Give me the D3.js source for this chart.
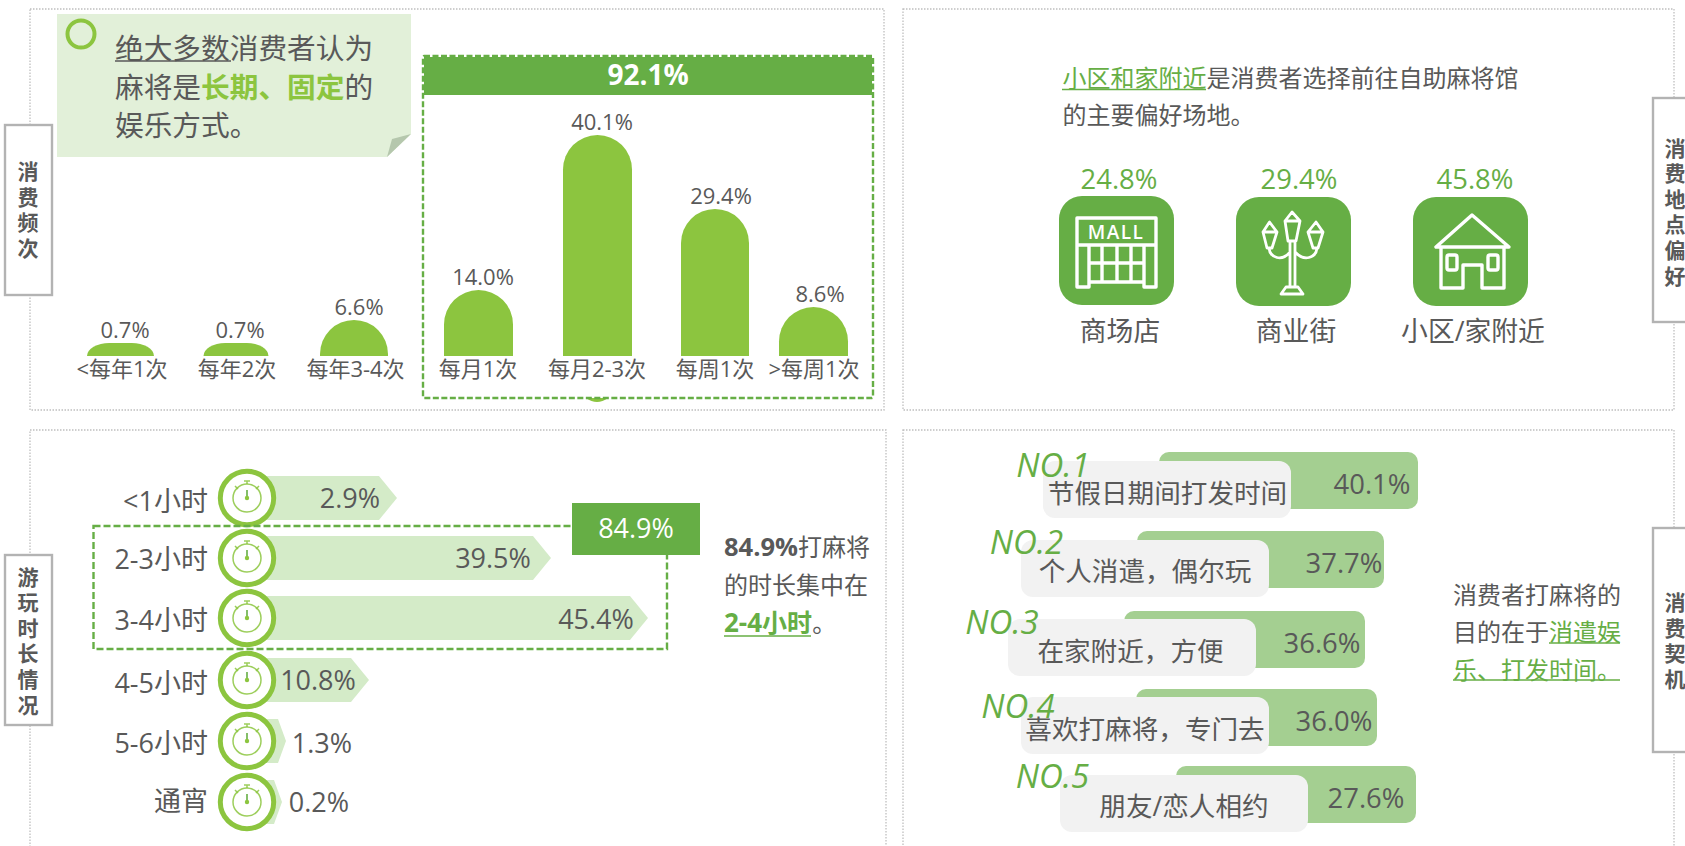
<!DOCTYPE html>
<html lang="zh">
<head>
<meta charset="utf-8">
<script src="https://cdn.jsdelivr.net/npm/d3@7"></script>
<style>
html,body{margin:0;padding:0;background:#fff;overflow:hidden}
svg{display:block}
text{font-family:"Open Sans","Noto Sans CJK SC",sans-serif;fill:#595959}
</style>
</head>
<body>
<div id="chart"></div>
<script>
// ---- data ----
const freqCats = ["<每年1次","每年2次","每年3-4次","每月1次","每月2-3次","每周1次",">每周1次"];
const freqVals = [0.7,0.7,6.6,14.0,40.1,29.4,8.6];
const freqTotal = "92.1%";
const locCats = ["商场店","商业街","小区/家附近"];
const locVals = [24.8,29.4,45.8];
const durCats = ["<1小时","2-3小时","3-4小时","4-5小时","5-6小时","通宵"];
const durVals = [2.9,39.5,45.4,10.8,1.3,0.2];
const durTotal = "84.9%";
const motiveCats = ["节假日期间打发时间","个人消遣，偶尔玩","在家附近，方便","喜欢打麻将，专门去","朋友/恋人相约"];
const motiveVals = [40.1,37.7,36.6,36.0,27.6];
const motiveRanks = ["NO.1","NO.2","NO.3","NO.4","NO.5"];

// ---- palette ----
const C = {text:"#595959",lime:"#8cc53f",green:"#66ae45",note:"#e2f0d9",fold:"#b5c7ad",
  arrow:"#d4ebc8",bar:"#a4cf91",chip:"#f2f2f2",dot:"#bfbfbf",side:"#b3b3b3"};
const fmt = v => v.toFixed(1)+"%";

const svg = d3.select("#chart").append("svg").attr("width",1685).attr("height",846);
svg.append("rect").attr("width",1685).attr("height",846).attr("fill","#fff");

function label(g,x,y,str,size,o={}){
  return g.append("text").attr("x",x).attr("y",y).attr("dy",".36em")
    .attr("text-anchor",o.anchor||"middle").attr("font-size",size)
    .attr("font-weight",o.weight||400).attr("font-style",o.style||null)
    .style("fill",o.fill||C.text).text(str);
}
// lines of runs: [{t,fill,weight,size}]
function rich(g,x,y,runs,size){
  const t=g.append("text").attr("x",x).attr("y",y).attr("dy",".36em").attr("font-size",size);
  runs.forEach(r=>t.append("tspan").text(r.t).attr("font-weight",r.weight||400).attr("font-size",r.size||size).style("fill",r.fill||C.text));
  return t;
}
function hline(g,x1,x2,y,color,w=1.6){
  g.append("line").attr("x1",x1).attr("x2",x2).attr("y1",y).attr("y2",y).attr("stroke",color).attr("stroke-width",w);
}

// ---- panels ----
[[30,9,854,401],[903,9,771,401],[30,430,856,440],[903,430,771,440]].forEach(p=>{
  svg.append("rect").attr("x",p[0]).attr("y",p[1]).attr("width",p[2]).attr("height",p[3])
    .attr("fill","none").attr("stroke",C.dot).attr("stroke-width",1.3).attr("stroke-dasharray","1.5 1.5");
});

// ---- side tabs ----
[{x:5,y:125,w:47,h:170,t:"消费频次",cy:210,tx:28},
 {x:5,y:555,w:47,h:170,t:"游玩时长情况",cy:641,tx:28},
 {x:1653,y:98,w:60,h:224,t:"消费地点偏好",cy:212,tx:1675},
 {x:1653,y:528,w:60,h:224,t:"消费契机",cy:641,tx:1675}].forEach(s=>{
  svg.append("rect").attr("x",s.x).attr("y",s.y).attr("width",s.w).attr("height",s.h)
    .attr("fill","#fff").attr("stroke",C.side).attr("stroke-width",2.4);
  const chars=Array.from(s.t), sp=25.6;
  chars.forEach((c,i)=>label(svg,s.tx,s.cy+(i-(chars.length-1)/2)*sp,c,21,{weight:700}));
});

// ---- P1: note ----
const p1=svg.append("g");
p1.append("path").attr("fill",C.note).attr("d",d3.line()([[57,14],[411,14],[411,134],[387,157],[57,157]])+"Z");
p1.append("path").attr("fill",C.fold).attr("d",d3.line()([[387,157],[392,139],[411,134]])+"Z");
p1.append("circle").attr("cx",81).attr("cy",34).attr("r",13.5).attr("fill","none").attr("stroke",C.lime).attr("stroke-width",4);
rich(p1,115,49,[{t:"绝大多数消费者认为"}],28.7);
hline(p1,115,231,61,C.text);
rich(p1,115,88,[{t:"麻将是"},{t:"长期、固定",fill:C.lime,weight:700},{t:"的"}],28.7);
rich(p1,115,126,[{t:"娱乐方式。"}],28.7);

// ---- P1: frequency bars ----
const baseY=356;
const fx=d3.scaleOrdinal(freqCats,[120.5,236,354,478.5,597.5,715,813.5]);
const fLabelX=d3.scaleOrdinal(freqCats,[122,237,355.5,478,597,715,814]);
const fValX=d3.scaleOrdinal(freqCats,[125,240,359,483,602,721,820]);
// the original bars are drawn by hand: the height is a piecewise reading of the picture
const fy=d3.scaleLinear().domain([0,0.7,6.6,8.6,14,29.4,40.1]).range([baseY,343,320,307,290,209,135]);
const barW=d3.scaleOrdinal(freqCats,[67,65,68,69,69,68,69]);
function capBar(cx,w,top){
  const h=baseY-top, l=cx-w/2, r=cx+w/2;
  const rx=h>=w/2?w/2:w/3, ry=h>=w/2?w/2:h;
  return `M${l},${baseY}V${top+ry}A${rx},${ry} 0 0 1 ${l+rx},${top}H${r-rx}A${rx},${ry} 0 0 1 ${r},${top+ry}V${baseY}Z`;
}
p1.append("path").attr("fill",C.lime).attr("d","M586,398Q597,406 608,398Z");
const fg=p1.append("g");
fg.selectAll("path").data(freqCats).join("path").attr("fill",C.lime)
  .attr("d",(c,i)=>capBar(fx(c),barW(c),fy(freqVals[i])));
freqCats.forEach((c,i)=>{
  label(fg,fValX(c),fy(freqVals[i])-13,fmt(freqVals[i]),22);
  label(fg,fLabelX(c),369,c,22);
});
p1.append("rect").attr("x",424).attr("y",57).attr("width",448).attr("height",38).attr("fill",C.green);
label(p1,648,75,freqTotal,28,{weight:700,fill:"#fff"});
p1.append("rect").attr("x",423).attr("y",56).attr("width",450).attr("height",342).attr("rx",1).attr("fill","none")
  .attr("stroke",C.green).attr("stroke-width",2.4).attr("stroke-dasharray","6 2.5");

// ---- P2: location ----
const p2=svg.append("g");
rich(p2,1062.5,78,[{t:"小区和家附近",fill:C.green},{t:"是消费者选择前往自助麻将馆"}],24);
hline(p2,1062,1206,89.5,C.green);
rich(p2,1062.5,115,[{t:"的主要偏好场地。"}],24);
const iconBox=d3.scaleOrdinal(locCats,[[1059,196],[1236,197],[1413,197]]);
const locValX=d3.scaleOrdinal(locCats,[1119,1299,1475]);
const locLabelX=d3.scaleOrdinal(locCats,[1120,1296,1473]);
locCats.forEach((c,i)=>{
  const b=iconBox(c);
  p2.append("rect").attr("x",b[0]).attr("y",b[1]).attr("width",115).attr("height",109).attr("rx",23).attr("fill",C.green);
  label(p2,locValX(c),179,fmt(locVals[i]),27.4,{fill:C.green});
  label(p2,locLabelX(c),331.5,c,26.8);
});
const ic=p2.append("g").attr("fill","none").attr("stroke","#fff").attr("stroke-width",3.4).attr("stroke-linejoin","round").attr("stroke-linecap","round");
// mall
ic.append("path").attr("d","M1077,218H1156V287H1144V282H1089V287H1077ZM1077,245H1156M1089,245V282M1144,245V282M1102,245V282M1117,245V282M1131,245V282M1089,263H1144");
label(p2,1116,232,"MALL",19,{fill:"#fff",weight:600}).attr("letter-spacing",1.5);
// lamp
ic.append("path").attr("stroke-width",2.8).attr("d","M1292,212L1285,221L1288,241H1296L1300,221ZM1285,221H1300M1290,241V287M1295,241V287"
 +"M1269.5,222L1263,232L1267,248H1272L1277,232ZM1263,232H1277M1269,248C1270,258 1282,262 1290,252"
 +"M1316,222L1308,232L1313,248H1318L1323,232ZM1308,232H1323M1317,248C1316,258 1304,262 1295,252"
 +"M1286,287H1298L1303,294H1281Z");
// house
ic.append("path").attr("d","M1472,215L1436,247H1509ZM1441,247V288H1463V265H1482V288H1504V247");
ic.append("rect").attr("x",1447).attr("y",255).attr("width",10).attr("height",15).attr("rx",2);
ic.append("rect").attr("x",1488).attr("y",255).attr("width",10).attr("height",15).attr("rx",2);

// ---- P3: duration ----
const p3=svg.append("g");
const rowY=d3.scaleOrdinal(durCats,[498,558,618,680,741,802]);
const rowH=44, shoulder=18, cx0=247;
// arrow tip position (the original is not proportional)
const tipX=d3.scaleLinear().domain([0.2,1.3,2.9,10.8,39.5,45.4]).range([282,286,397,369,551,648]);
const durLabelY=d3.scaleOrdinal(durCats,[501,559,620,683,743,801]);
const durValX=d3.scaleOrdinal(durCats,[350,493,596,318,322,319]);
const durValY=d3.scaleOrdinal(durCats,[498,558,619,680,743,802]);
p3.selectAll("path.arrow").data(durCats).join("path").attr("class","arrow").attr("fill",C.arrow)
  .attr("d",(c,i)=>{
    const t=tipX(durVals[i]), y=rowY(c), s=durVals[i]<2?8:shoulder;
    return d3.line()([[cx0,y-rowH/2],[t-s,y-rowH/2],[t,y],[t-s,y+rowH/2],[cx0,y+rowH/2]])+"Z";
  });
durCats.forEach((c,i)=>{
  const y=rowY(c);
  const g=p3.append("g").attr("transform",`translate(${cx0},${y})`);
  g.append("circle").attr("r",26.7).attr("fill","#fff").attr("stroke",C.lime).attr("stroke-width",5);
  g.append("circle").attr("r",14).attr("fill","none").attr("stroke",C.lime).attr("stroke-width",1.5).attr("opacity",.85);
  g.append("path").attr("fill","none").attr("stroke",C.lime).attr("stroke-width",1.5).attr("opacity",.85)
    .attr("d","M-3,-17H3M0,-17V-14M-12,-12L-9,-9M12,-12L9,-9");
  g.append("path").attr("stroke",C.green).attr("stroke-width",1.6).attr("d","M0,-8V0");
  g.append("circle").attr("r",2.2).attr("fill",C.lime);
  label(p3,208,durLabelY(c),c,27,{anchor:"end"});
  label(p3,durValX(c),durValY(c),fmt(durVals[i]),27);
});
p3.append("rect").attr("x",93.5).attr("y",526).attr("width",573.5).attr("height",123).attr("fill","none")
  .attr("stroke",C.green).attr("stroke-width",2.4).attr("stroke-dasharray","7 3");
p3.append("rect").attr("x",572).attr("y",503).attr("width",128).attr("height",52).attr("fill",C.green);
label(p3,636,528,durTotal,27,{fill:"#fff"});
rich(p3,724,547,[{t:"84.9%",weight:700,size:25.5},{t:"打麻将"}],24);
rich(p3,724,585,[{t:"的时长集中在"}],24);
rich(p3,724,623,[{t:"2-4",fill:C.green,weight:700,size:26},{t:"小时",fill:C.green,weight:700,size:25},{t:"。"}],24);
hline(p3,724,811,636,C.green);

// ---- P4: motives ----
const p4=svg.append("g");
const mBarX=d3.scaleOrdinal(motiveCats,[1159,1137,1124,1136,1176]);
const mBarY=d3.scaleOrdinal(motiveCats,[452,531,611,689,766]);
const mChipX=d3.scaleOrdinal(motiveCats,[1043,1021,1008,1021,1060]);
const mChipY=d3.scaleOrdinal(motiveCats,[461,540,619,697,775]);
const mTextX=d3.scaleOrdinal(motiveCats,[1167.5,1145,1130.5,1145,1184]);
const mTextY=d3.scaleOrdinal(motiveCats,[493,571,651,729,806]);
const mValX=d3.scaleOrdinal(motiveCats,[1372,1344,1322,1334,1366]);
const mRankX=d3.scaleOrdinal(motiveCats,[1053,1026.5,1002,1018,1052.5]);
const mRankY=d3.scaleOrdinal(motiveCats,[465,542,622,706,776]);
const mW=d3.scaleLinear().domain([27.6,36,36.6,37.7,40.1]).range([240,241,241,247,259]);
p4.selectAll("rect.bar").data(motiveCats).join("rect").attr("class","bar")
  .attr("x",c=>mBarX(c)).attr("y",c=>mBarY(c)).attr("height",57).attr("rx",10)
  .attr("width",(c,i)=>mW(motiveVals[i])).attr("fill",C.bar);
p4.selectAll("rect.chip").data(motiveCats).join("rect").attr("class","chip")
  .attr("x",c=>mChipX(c)).attr("y",c=>mChipY(c)).attr("width",248).attr("height",57).attr("rx",12).attr("fill",C.chip);
motiveCats.forEach((c,i)=>{
  label(p4,mRankX(c),mRankY(c),motiveRanks[i],33,{style:"italic",fill:C.green});
  label(p4,mTextX(c),mTextY(c),c,26.6);
  label(p4,mValX(c),mBarY(c)+32,fmt(motiveVals[i]),27.4);
});
rich(p4,1453,595,[{t:"消费者打麻将的"}],24);
rich(p4,1453,632,[{t:"目的在于"},{t:"消遣娱",fill:C.green}],24);
rich(p4,1453,670,[{t:"乐、打发时间。",fill:C.green}],24);
hline(p4,1549,1620,643,C.green);
hline(p4,1453,1620,680,C.green);
</script>
</body>
</html>
